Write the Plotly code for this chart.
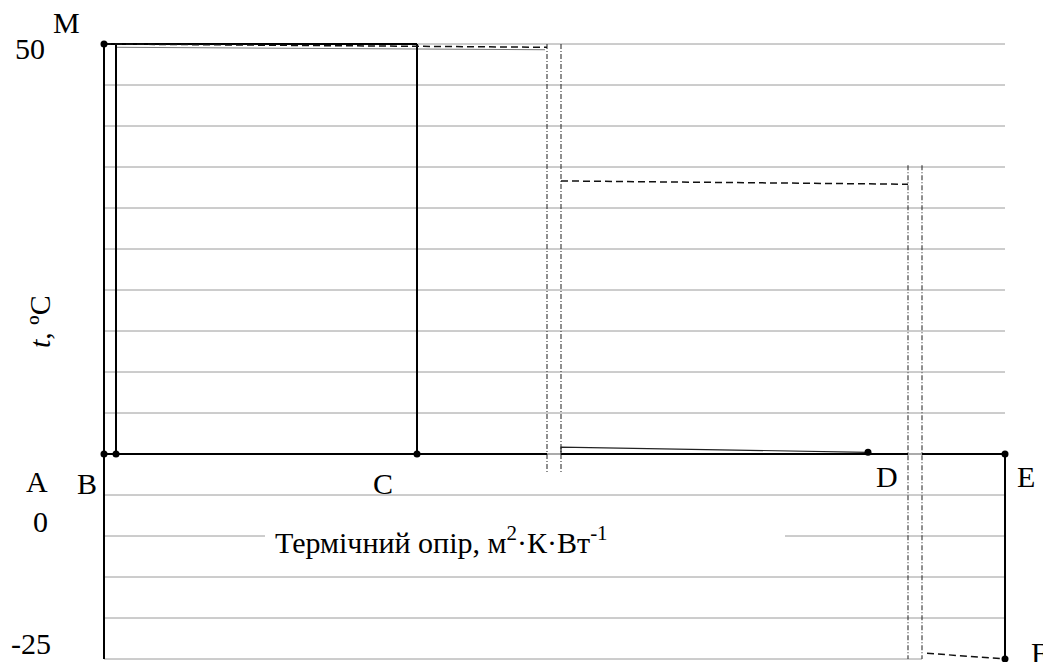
import plotly.graph_objects as go

# ---- data ----
# thermal-resistance positions of the wall boundaries (A, B, C, D, E)
bound_names = ["A", "B", "C", "D", "E"]
bound_R = [0.0, 0.12, 3.13, 7.64, 9.01]
# air-gap / insulation column boundaries (dash-dot lines)
gap1_R = [4.43, 4.57]
gap2_R = [8.04, 8.18]
# temperatures
t_in = 50
t_out = -25
grid_t = [50, 45, 40, 35, 30, 25, 20, 15, 10, 5, -5, -10, -15, -20, -25]
# temperature profile pieces (dashed)
dash1_R = [0.0, 4.43]
dash1_t = [50.0, 49.6]
dash2_R = [4.57, 8.04]
dash2_t = [33.3, 32.9]
dash3_R = [8.23, 9.01]
dash3_t = [-24.3, -25.0]
thin_R = [4.57, 4.57, 7.64]
thin_t = [0.0, 0.85, 0.2]
gray_top_R = [0.12, 4.41]
gray_top_t = [49.6, 49.3]
D_t = 0.2
label_R = 1.69  # x-axis title start
label_gap = [1.61, 6.81]

serif = "Liberation Serif, Times New Roman, serif"
fig = go.Figure()

def seg(xs, ys, color, width, dash="solid", op=1.0):
    fig.add_trace(go.Scatter(x=xs, y=ys, mode="lines", opacity=op,
                             line=dict(color=color, width=width, dash=dash),
                             hoverinfo="skip", showlegend=False))

# gridlines
gx, gy = [], []
Rmax = bound_R[-1]
for t in grid_t:
    if t == -10:
        gx += [0, label_gap[0], None, label_gap[1], Rmax, None]
        gy += [t, t, None, t, t, None]
    elif t == t_out:
        gx += [0, gap2_R[1], None]
        gy += [t, t, None]
    else:
        gx += [0, Rmax, None]
        gy += [t, t, None]
seg(gx, gy, "#9a9a9a", 1)

# gray bits of the zero line inside gaps
seg([gap1_R[0], gap1_R[1], None, gap2_R[0], gap2_R[1]], [0, 0, None, 0, 0], "#aaaaaa", 2)
# thin gray near the top
seg(gray_top_R, gray_top_t, "#777777", 1)

# dash-dot gap columns
dd = "5px,2px,1px,2px"
seg([gap1_R[0], gap1_R[0], None, gap1_R[1], gap1_R[1]],
    [t_in, -2.4, None, t_in, -2.4], "#333333", 1.1, dd)
seg([gap2_R[0], gap2_R[0], None, gap2_R[1], gap2_R[1]],
    [35.2, t_out, None, 35.2, t_out], "#333333", 1.1, dd)

# thick black wall lines
bx = [bound_R[0], bound_R[0], None,
      bound_R[1], bound_R[1], None,
      bound_R[2], bound_R[2], None,
      bound_R[4], bound_R[4], None,
      bound_R[0], gap1_R[0], None,
      gap1_R[1], gap2_R[0], None,
      gap2_R[1], bound_R[4], None,
      bound_R[0], bound_R[2]]
by = [t_out, t_in, None,
      0, t_in, None,
      0, t_in, None,
      0, t_out, None,
      0, 0, None,
      0, 0, None,
      0, 0, None,
      t_in, t_in]
seg(bx, by, "#000000", 2)

# dashed temperature profile
dsh = "7px,4px"
seg(dash1_R, dash1_t, "#111111", 1.5, dsh)
seg(dash2_R, dash2_t, "#111111", 1.5, dsh)
seg(dash3_R, dash3_t, "#111111", 1.5, dsh)
seg(thin_R, thin_t, "#222222", 1.2)

# points
px = [bound_R[0], bound_R[0], bound_R[1], bound_R[2], bound_R[3], bound_R[4], bound_R[4]]
py = [t_in, 0, 0, 0, D_t, 0, t_out]
fig.add_trace(go.Scatter(x=px, y=py, mode="markers",
                         marker=dict(color="black", size=7),
                         hoverinfo="skip", showlegend=False))

# text labels
def txt(x, y, s, size=30, anchor="center", angle=0):
    fig.add_annotation(x=x, y=y, text=s, showarrow=False, xanchor=anchor,
                       yanchor="middle", textangle=angle,
                       font=dict(family=serif, size=size, color="black"))

txt(-0.38, 52.6, "M")
txt(-0.74, 49.4, "50")
txt(-0.64, -8.2, "0")
txt(-0.73, -23.05, "-25")
txt(-0.675, -3.3, "A")
txt(-0.17, -3.55, "B")
txt(2.79, -3.55, "C")
txt(7.83, -2.7, "D")
txt(9.22, -2.7, "E")
txt(9.25, -24.2, "F", anchor="left")
txt(label_R, -10.5, "Термічний опір, м<sup>2</sup>·К·Вт<sup>-1</sup>", size=30, anchor="left")
txt(-0.64, 16.1, "<i>t</i>, ºC", angle=-90)

fig.update_layout(
    width=1043, height=662,
    margin=dict(l=0, r=0, t=0, b=0),
    paper_bgcolor="white", plot_bgcolor="white",
    xaxis=dict(range=[-1.04, 9.39], visible=False, fixedrange=True),
    yaxis=dict(range=[-208 / 8.2, 454 / 8.2], visible=False, fixedrange=True),
)
fig.write_html("out.html")
